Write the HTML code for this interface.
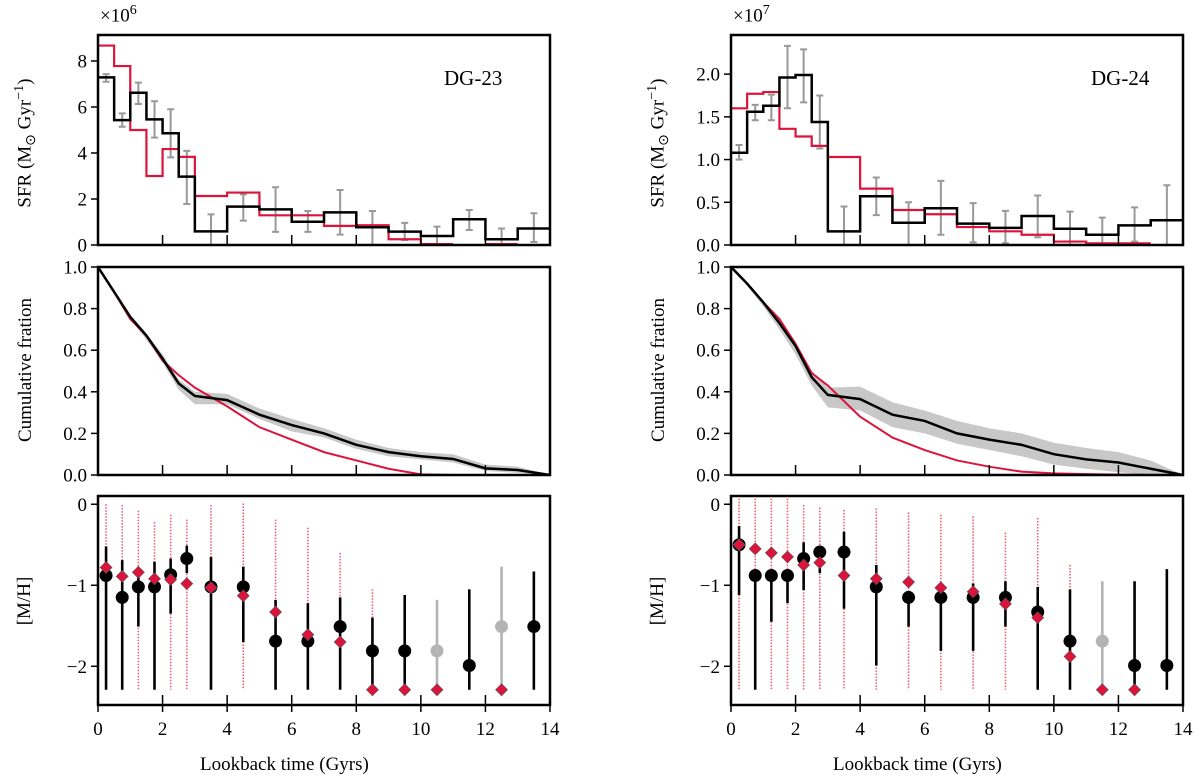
<!DOCTYPE html>
<html><head><meta charset="utf-8"><style>
body{margin:0;background:#fff}
svg{display:block;font-family:"Liberation Serif",serif}
</style></head><body>
<svg id="fig" width="1200" height="784" viewBox="0 0 1200 784"></svg>
<script>
const binEdges=[0,0.5,1,1.5,2,2.5,3,4,5,6,7,8,9,10,11,12,13,14];
const binCenters=[0.25,0.75,1.25,1.75,2.25,2.75,3.5,4.5,5.5,6.5,7.5,8.5,9.5,10.5,11.5,12.5,13.5];
// DG-23 SFR (x1e6)
const sfrBlackL=[7.29,5.43,6.62,5.46,4.86,2.97,0.59,1.67,1.55,1.01,1.42,0.77,0.58,0.39,1.12,0.25,0.72];
const sfrRedL=[8.67,7.78,5.0,3.0,4.17,3.83,2.13,2.28,1.29,1.29,0.83,0.86,0.25,0.04,0,0.04,0];
const sfrErrHiL=[7.43,5.72,7.06,6.25,5.9,4.09,1.33,2.2,2.51,1.48,2.39,1.48,0.96,0.8,1.52,0.72,1.38];
const sfrErrLoL=[7.1,5.14,6.13,4.67,3.81,1.78,0,1.06,0.57,0.57,0.45,0,0.22,0,0.65,0,0.13];
// DG-24 SFR (x1e7)
const sfrBlackR=[1.08,1.56,1.63,1.96,1.99,1.44,0.16,0.57,0.26,0.43,0.25,0.2,0.34,0.19,0.12,0.23,0.29];
const sfrRedR=[1.6,1.77,1.79,1.36,1.27,1.16,1.03,0.66,0.41,0.36,0.21,0.16,0.12,0.04,0.02,0.02,0];
const sfrErrHiR=[1.17,1.64,1.76,2.33,2.29,1.75,0.45,0.79,0.5,0.75,0.49,0.4,0.58,0.39,0.32,0.44,0.7];
const sfrErrLoR=[1.0,1.46,1.46,1.6,1.67,1.13,0,0.35,0,0.12,0.03,0.02,0.09,0,0,0.04,0];
// cumulative
const cumT=[0,0.5,1,1.5,2,2.5,3,4,5,6,7,8,9,10,11,12,13,14];
const cumBlackL=[1,0.88,0.76,0.67,0.56,0.44,0.38,0.36,0.29,0.24,0.2,0.145,0.11,0.09,0.077,0.032,0.024,0];
const cumUpL=[1,0.89,0.77,0.68,0.58,0.46,0.4,0.39,0.32,0.27,0.225,0.17,0.13,0.11,0.1,0.05,0.04,0];
const cumLoL=[1,0.87,0.75,0.65,0.54,0.41,0.34,0.34,0.27,0.21,0.18,0.125,0.09,0.075,0.06,0.02,0.01,0];
const cumRedL=[1,0.88,0.75,0.67,0.55,0.48,0.42,0.33,0.23,0.17,0.11,0.07,0.03,0.003,0,0,0,0];
const cumBlackR=[1,0.92,0.83,0.73,0.62,0.47,0.385,0.365,0.29,0.26,0.2,0.17,0.145,0.1,0.075,0.06,0.03,0];
const cumUpR=[1,0.92,0.84,0.75,0.64,0.5,0.42,0.425,0.35,0.31,0.26,0.225,0.2,0.155,0.13,0.11,0.07,0];
const cumLoR=[1,0.91,0.81,0.7,0.58,0.43,0.325,0.31,0.23,0.2,0.15,0.12,0.09,0.05,0.03,0.013,0,0];
const cumRedR=[1,0.92,0.83,0.75,0.63,0.49,0.43,0.28,0.18,0.12,0.07,0.04,0.016,0.008,0.004,0.002,0,0];
// metallicity DG-23
const mhL=[-0.88,-1.15,-1.02,-1.02,-0.87,-0.67,-1.02,-1.02,-1.69,-1.69,-1.51,-1.81,-1.81,-1.81,-1.99,-1.51,-1.51];
const mhTopL=[-0.52,-0.69,-0.8,-0.71,-0.67,-0.51,-0.65,-0.77,-1.18,-1.22,-1.15,-1.4,-1.12,-1.18,-1.05,-0.77,-0.83];
const mhBotL=[-2.29,-2.29,-1.51,-2.29,-1.35,-0.85,-2.29,-1.7,-2.29,-2.29,-2.29,-2.29,-2.29,-2.29,-2.29,-2.29,-2.29];
const mhGrayL=[0,0,0,0,0,0,0,0,0,0,0,0,0,1,0,1,0];
const dmL=[-0.78,-0.89,-0.84,-0.92,-0.93,-0.98,-1.03,-1.13,-1.33,-1.61,-1.7,-2.29,-2.29,-2.29,null,-2.29,null];
const dotTopL=[0,-0.01,-0.08,-0.22,-0.13,-0.19,-0.01,0.01,-0.19,-0.29,-0.6,-1.05,null,null,null,null,null];
// metallicity DG-24
const mhR=[-0.5,-0.88,-0.88,-0.88,-0.67,-0.59,-0.59,-1.02,-1.15,-1.15,-1.15,-1.15,-1.33,-1.69,-1.69,-1.99,-1.99];
const mhTopR=[-0.27,-0.88,-0.88,-0.88,-0.47,-0.51,-0.34,-0.75,-1.15,-0.98,-0.98,-0.95,-1.02,-1.05,-0.95,-0.95,-0.8];
const mhBotR=[-1.12,-2.29,-1.45,-1.22,-1.06,-0.85,-1.29,-1.99,-1.51,-1.81,-1.81,-1.51,-2.29,-2.29,-2.29,-2.29,-2.29];
const mhGrayR=[0,0,0,0,0,0,0,0,0,0,0,0,0,0,1,0,0];
const dmR=[-0.5,-0.55,-0.6,-0.65,-0.75,-0.72,-0.88,-0.92,-0.96,-1.03,-1.08,-1.23,-1.4,-1.88,-2.29,-2.29,null];
const dotTopR=[0.07,0.07,0.07,0.07,-0.01,-0.04,-0.07,-0.05,-0.1,-0.13,-0.15,-0.35,-0.17,-0.75,null,null,null];

const NS="http://www.w3.org/2000/svg";
const svg=document.getElementById('fig');
function mk(tag,attrs,parent){const e=document.createElementNS(NS,tag);for(const k in attrs)e.setAttribute(k,attrs[k]);(parent||svg).appendChild(e);return e;}
function txt(s,x,y,attrs){const e=mk('text',Object.assign({x:x,y:y,'font-size':19,fill:'#000'},attrs||{}));e.textContent=s;return e;}

function panel(x0,x1,y0,y1,ymin,ymax,name){
  const g=mk('g',{});
  
  
  return {g:g,x:t=>x0+(t/14)*(x1-x0),y:v=>y1-(v-ymin)/(ymax-ymin)*(y1-y0),x0,x1,y0,y1};
}
function frame(p){
  const r=mk('rect',{x:p.x0,y:p.y0,width:p.x1-p.x0,height:p.y1-p.y0,fill:'none',stroke:'#000','stroke-width':2.5},p.g);
  
  
}
function yticks(p,vals,labels){
  vals.forEach((v,i)=>{const y=p.y(v);mk('line',{x1:p.x0-7,x2:p.x0,y1:y,y2:y,stroke:'#000','stroke-width':1.5},p.g);
    const t=txt(labels[i],p.x0-11,y+6.5,{'text-anchor':'end'});});
}
function xticks(p,out){
  for(let t=2;t<=12;t+=2){const x=p.x(t);mk('line',{x1:x,x2:x,y1:p.y1-10,y2:p.y1+(out?7:0),stroke:'#000','stroke-width':1.5},p.g);}
  if(out){[0,14].forEach(t=>mk('line',{x1:p.x(t),x2:p.x(t),y1:p.y1,y2:p.y1+7,stroke:'#000','stroke-width':1.5},p.g));
    for(let t=0;t<=14;t+=2){const l=txt(String(t),p.x(t),p.y1+30,{'text-anchor':'middle'});}}
}
function stepPath(p,vals,stopAtZero){
  let d='';let pen=false;
  vals.forEach((v,i)=>{
    if(stopAtZero && v<=0){pen=false;return;}
    const xa=p.x(binEdges[i]),xb=p.x(binEdges[i+1]),y=p.y(v);
    d+=(pen?'L':'M')+xa+','+y+'L'+xb+','+y;pen=true;
  });
  return d;
}
function sfrPanel(p,black,red,hi,lo){
  binCenters.forEach((c,i)=>{const x=p.x(c);
    const e=mk('path',{d:`M${x},${p.y(hi[i])}L${x},${p.y(lo[i])}M${x-3.5},${p.y(hi[i])}L${x+3.5},${p.y(hi[i])}M${x-3.5},${p.y(lo[i])}L${x+3.5},${p.y(lo[i])}`,stroke:'#999','stroke-width':2,fill:'none'},p.g);
    });
  const r=mk('path',{d:stepPath(p,red,true),stroke:'#dc143c','stroke-width':2.2,fill:'none'},p.g);
  
  const b=mk('path',{d:stepPath(p,black,false),stroke:'#000','stroke-width':2.5,fill:'none'},p.g);
  
}
function line(p,vals){return cumT.map((t,i)=>(i?'L':'M')+p.x(t)+','+p.y(vals[i])).join('');}
function cumPanel(p,bl,up,lo,red){
  let d=line(p,up);for(let i=cumT.length-1;i>=0;i--)d+='L'+p.x(cumT[i])+','+p.y(lo[i]);
  const band=mk('path',{d:d+'Z',fill:'#c8c8c8',stroke:'none'},p.g);
  
  const r=mk('path',{d:line(p,red),stroke:'#dc143c','stroke-width':2,fill:'none'},p.g);
  
  const b=mk('path',{d:line(p,bl),stroke:'#000','stroke-width':2.5,fill:'none'},p.g);
  
}
function mhPanel(p,mh,top,bot,gray,dm,dtop){
  binCenters.forEach((c,i)=>{const x=p.x(c);
    if(dtop[i]!==null){const dl=mk('line',{x1:x,x2:x,y1:p.y(dtop[i]),y2:p.y(-2.29),stroke:'#e8607a','stroke-width':1.6,'stroke-dasharray':'1.5 1.5'},p.g);
      }
  });
  binCenters.forEach((c,i)=>{const x=p.x(c);const col=gray[i]?'#b4b4b4':'#000';
    const e=mk('line',{x1:x,x2:x,y1:p.y(top[i]),y2:p.y(bot[i]),stroke:col,'stroke-width':2.6},p.g);
    
    const c2=mk('circle',{cx:x,cy:p.y(mh[i]),r:6.5,fill:col},p.g);
    
    if(dm[i]!==null){const y=p.y(dm[i]);
      const dd=mk('path',{d:`M${x},${y-6}L${x+6},${y}L${x},${y+6}L${x-6},${y}Z`,fill:'#dc143c',stroke:'#555','stroke-width':0.6},p.g);
      }
  });
}
// top
const pT1=panel(98,550,35,245,0,9.13,'sfr-panel-dg23');
sfrPanel(pT1,sfrBlackL,sfrRedL,sfrErrHiL,sfrErrLoL);frame(pT1);xticks(pT1,false);
yticks(pT1,[0,2,4,6,8],['0','2','4','6','8']);
const pT2=panel(731,1183,35,245,0,2.458,'sfr-panel-dg24');
sfrPanel(pT2,sfrBlackR,sfrRedR,sfrErrHiR,sfrErrLoR);frame(pT2);xticks(pT2,false);
yticks(pT2,[0,0.5,1,1.5,2],['0.0','0.5','1.0','1.5','2.0']);
// middle
const pM1=panel(98,550,267,475,0,1,'cumulative-panel-dg23');
cumPanel(pM1,cumBlackL,cumUpL,cumLoL,cumRedL);frame(pM1);xticks(pM1,false);
const cl=['0.0','0.2','0.4','0.6','0.8','1.0'];
yticks(pM1,[0,0.2,0.4,0.6,0.8,1],cl);
const pM2=panel(731,1183,267,475,0,1,'cumulative-panel-dg24');
cumPanel(pM2,cumBlackR,cumUpR,cumLoR,cumRedR);frame(pM2);xticks(pM2,false);
yticks(pM2,[0,0.2,0.4,0.6,0.8,1],cl);
// bottom
const pB1=panel(98,550,496,705,-2.478,0.102,'metallicity-panel-dg23');
mhPanel(pB1,mhL,mhTopL,mhBotL,mhGrayL,dmL,dotTopL);frame(pB1);xticks(pB1,true);
yticks(pB1,[0,-1,-2],['0','−1','−2']);
const pB2=panel(731,1183,496,705,-2.478,0.102,'metallicity-panel-dg24');
mhPanel(pB2,mhR,mhTopR,mhBotR,mhGrayR,dmR,dotTopR);frame(pB2);xticks(pB2,true);
yticks(pB2,[0,-1,-2],['0','−1','−2']);
</script>
<div style="position:absolute;left:0;top:0;width:1200px;height:784px;pointer-events:none;font-family:'Liberation Serif',serif;font-size:19px">
  <div style="position:absolute;left:444px;top:66px;font-size:21px">DG-23</div>
  <div style="position:absolute;left:1091px;top:66px;font-size:21px">DG-24</div>
  <div style="position:absolute;left:100px;top:3px">×10<sup style="font-size:14px">6</sup></div>
  <div style="position:absolute;left:733px;top:3px">×10<sup style="font-size:14px">7</sup></div>
  <div style="position:absolute;left:200px;top:754px">Lookback time (Gyrs)</div>
  <div style="position:absolute;left:833px;top:754px">Lookback time (Gyrs)</div>
  <div style="position:absolute;left:-54px;top:129px;width:160px;text-align:center;transform:rotate(-90deg)">SFR (M<sub style="font-size:14px">⊙</sub> Gyr<sup style="font-size:14px">−1</sup>)</div>
  <div style="position:absolute;left:579px;top:129px;width:160px;text-align:center;transform:rotate(-90deg)">SFR (M<sub style="font-size:14px">⊙</sub> Gyr<sup style="font-size:14px">−1</sup>)</div>
  <div style="position:absolute;left:-69px;top:359px;width:190px;text-align:center;transform:rotate(-90deg)">Cumulative fration</div>
  <div style="position:absolute;left:564px;top:359px;width:190px;text-align:center;transform:rotate(-90deg)">Cumulative fration</div>
  <div style="position:absolute;left:-10px;top:590px;width:70px;text-align:center;transform:rotate(-90deg)">[M/H]</div>
  <div style="position:absolute;left:623px;top:590px;width:70px;text-align:center;transform:rotate(-90deg)">[M/H]</div>
</div>
</body></html>
